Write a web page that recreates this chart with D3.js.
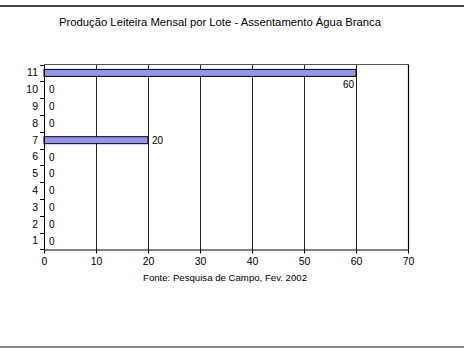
<!DOCTYPE html>
<html><head><meta charset="utf-8">
<script src="https://cdn.jsdelivr.net/npm/d3@7"></script>
<style>body{margin:0;background:#fff}svg{display:block}text{font-family:"Liberation Sans",Arial,sans-serif;fill:#000}</style>
</head><body>
<svg id="c" width="464" height="348"></svg>
<script>
const lotes = ["1","2","3","4","5","6","7","8","9","10","11"];
const producao = [0,0,0,0,0,0,20,0,0,0,60];
const xTicks = [0,10,20,30,40,50,60,70];
const titulo = "Produção Leiteira Mensal por Lote - Assentamento Água Branca";
const fonte = "Fonte: Pesquisa de Campo, Fev. 2002";

const svg = d3.select("#c");
const m = {l:44, r:408, t:64.5, b:249.5};
const x = d3.scaleLinear().domain([0,70]).range([m.l, m.r]);
const y = d3.scaleBand().domain(lotes.slice().reverse()).range([m.t, m.b]).paddingInner(0).paddingOuter(0);

// frame lines
svg.append("rect").attr("x",0).attr("y",5).attr("width",464).attr("height",2).attr("fill","#444");
svg.append("rect").attr("x",0).attr("y",346).attr("width",464).attr("height",2).attr("fill","#888");

svg.append("text").attr("x",220).attr("y",26).attr("text-anchor","middle")
  .attr("font-size",11).attr("textLength",322).attr("lengthAdjust","spacingAndGlyphs").text(titulo);

// gridlines
svg.append("g").selectAll("line").data(xTicks.slice(1)).join("line")
  .attr("x1",d=>Math.round(x(d))+0.5).attr("x2",d=>Math.round(x(d))+0.5)
  .attr("y1",m.t).attr("y2",m.b).attr("stroke","#222").attr("stroke-width",1);
// top border
svg.append("line").attr("x1",m.l).attr("x2",m.r).attr("y1",m.t).attr("y2",m.t).attr("stroke","#555");
svg.append("line").attr("x1",m.r+0.5).attr("x2",m.r+0.5).attr("y1",m.t).attr("y2",m.b).attr("stroke","#000").attr("stroke-width",1.2);

// bars
const bh = 7;
svg.append("g").selectAll("rect").data(lotes).join("rect")
  .attr("x",x(0)).attr("y",d=>y(d)+y.bandwidth()/2-bh/2)
  .attr("width",(d,i)=>x(producao[i])-x(0)).attr("height",bh)
  .attr("fill","#9393f5").attr("stroke","#000").attr("stroke-width",1)
  .attr("display",(d,i)=>producao[i]>0?null:"none");

// value labels
svg.append("g").selectAll("text").data(lotes).join("text")
  .attr("font-size",10)
  .attr("x",(d,i)=>{const v=producao[i]; if(v===0) return x(0)+5; if(v>=60) return x(v)-2; return x(v)+4;})
  .attr("y",(d,i)=>{const v=producao[i]; const c=y(d)+y.bandwidth()/2; if(v>=60) return c+15; return c+3.5;})
  .attr("text-anchor",(d,i)=>producao[i]>=60?"end":"start")
  .text((d,i)=>producao[i]);

// axes
const xAxis = d3.axisBottom(x).tickValues(xTicks).tickSize(4).tickSizeOuter(0).tickFormat(d3.format("d"));
const gx = svg.append("g").attr("transform",`translate(0,${m.b})`).call(xAxis);
gx.select(".domain").attr("stroke","#000");
gx.selectAll(".tick line").attr("stroke","#000");
gx.selectAll(".tick text").attr("font-size",10.5).attr("font-family","Liberation Sans, Arial, sans-serif").attr("dy","0.85em");

const yAxis = d3.axisLeft(y).tickSize(0).tickPadding(6);
const gy = svg.append("g").attr("transform",`translate(${m.l},0)`).call(yAxis);
gy.select(".domain").attr("stroke","#000");
gy.selectAll(".tick text").attr("font-size",10.5).attr("font-family","Liberation Sans, Arial, sans-serif");
// tick marks between categories
const bounds = d3.range(lotes.length+1).map(i=>m.t+i*y.bandwidth());
svg.append("g").selectAll("line").data(bounds).join("line")
  .attr("x1",m.l-4).attr("x2",m.l).attr("y1",d=>Math.round(d)+0.5).attr("y2",d=>Math.round(d)+0.5)
  .attr("stroke","#000");

svg.append("text").attr("x",225).attr("y",281).attr("text-anchor","middle")
  .attr("font-size",9).attr("textLength",164).attr("lengthAdjust","spacingAndGlyphs").text(fonte);
</script>
</body></html>
